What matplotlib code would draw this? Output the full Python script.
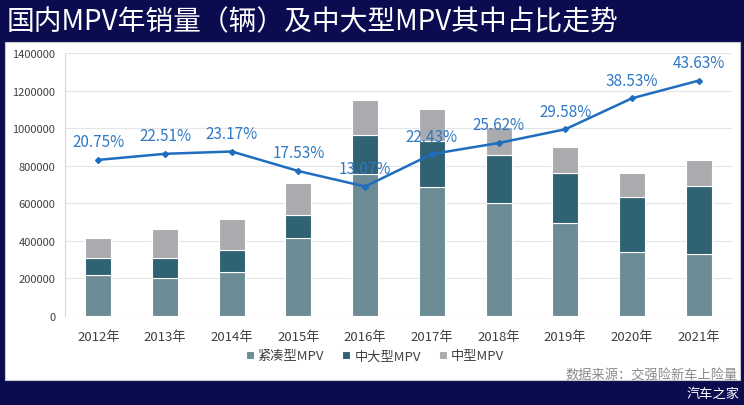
import numpy as np
import matplotlib.pyplot as plt
from matplotlib.patches import Rectangle

plt.rcParams['font.family'] = ['Noto Sans CJK SC', 'DejaVu Sans']

years = ["2012年", "2013年", "2014年", "2015年", "2016年",
         "2017年", "2018年", "2019年", "2020年", "2021年"]
compact = [220000, 202000, 232000, 415000, 755000, 688000, 599000, 493000, 339000, 328000]
mid_large = [88000, 106000, 119000, 124000, 209000, 245000, 259000, 266000, 296000, 363000]
mid = [107000, 156000, 167000, 167000, 185000, 167000, 146000, 141000, 127000, 140000]
share = [20.75, 22.51, 23.17, 17.53, 13.07, 22.43, 25.62, 29.58, 38.53, 43.63]

c_compact = "#6b8c94"
c_large = "#2f6273"
c_mid = "#a9abae"
c_line = "#1f6dbf"
c_label = "#2e78c4"

fig = plt.figure(figsize=(7.44, 4.06), dpi=100)
fig.patch.set_facecolor("#0b0b50")
fig.patches.append(Rectangle((5 / 744, 1 - 381 / 406), 735 / 744, 338 / 406,
                             transform=fig.transFigure, facecolor="white",
                             edgecolor="#c8c8c8", lw=0.8, zorder=-1))

fig.text(7 / 744, 1 - 22 / 406, "国内MPV年销量（辆）及中大型MPV其中占比走势",
         color="white", fontsize=20, va="center", ha="left")

ax = fig.add_axes([65 / 744, 1 - 317 / 406, 667 / 744, 263 / 406])
ax.set_facecolor("none")
x = np.arange(len(years))
w = 0.39
b1 = np.array(compact)
b2 = b1 + np.array(mid_large)
ax.bar(x, compact, w, color=c_compact, edgecolor="white", lw=0.8, label="紧凑型MPV", zorder=2)
ax.bar(x, mid_large, w, bottom=b1, color=c_large, edgecolor="white", lw=0.8, label="中大型MPV", zorder=2)
ax.bar(x, mid, w, bottom=b2, color=c_mid, edgecolor="white", lw=0.8, label="中型MPV", zorder=2)

ax.set_ylim(0, 1400000)
ax.set_xlim(-0.5, len(years) - 0.5)
ax.set_yticks(np.arange(0, 1400001, 200000))
ax.set_yticklabels([str(v) for v in range(0, 1400001, 200000)], fontsize=8, color="#404040")
ax.set_xticks(x)
ax.set_xticklabels(years, fontsize=9.5, color="#404040")
ax.tick_params(length=0)
ax.tick_params(axis="x", pad=10)
ax.tick_params(axis="y", pad=7)
ax.grid(axis="y", color="#e4e4e4", lw=0.8, zorder=0)
for s in ["top", "right", "bottom"]:
    ax.spines[s].set_visible(False)
ax.spines["left"].set_color("#d9d9d9")

ax2 = ax.twinx()
ax2.set_ylim(-24.3, 51.6)
ax2.axis("off")
ax2.plot(x, share, color=c_line, lw=1.8, marker="D", ms=3, zorder=3)
for xi, s in zip(x, share):
    ax2.annotate(f"{s:.2f}%", (xi, s), xytext=(0, 13), textcoords="offset points",
                 ha="center", va="center", fontsize=11, color=c_label)

ax.legend(loc="center", bbox_to_anchor=(375 / 744, 1 - 357 / 406),
          bbox_transform=fig.transFigure, ncol=3, frameon=False, fontsize=9.5,
          handlelength=0.6, handleheight=0.6, handletextpad=0.3, columnspacing=1.4,
          labelcolor="#404040")

fig.text(738 / 744, 1 - 375 / 406, "数据来源：交强险新车上险量", color="#8a8a8a",
         fontsize=9.5, ha="right", va="center")
fig.text(740 / 744, 1 - 394 / 406, "汽车之家", color="white",
         fontsize=9.5, ha="right", va="center")

fig.savefig("out.png", dpi=100, facecolor=fig.get_facecolor())
